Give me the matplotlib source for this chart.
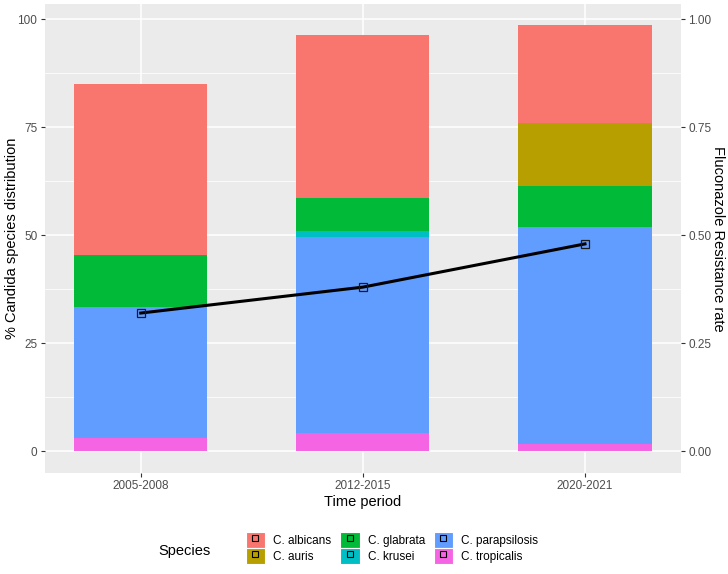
import matplotlib.pyplot as plt
from matplotlib.patches import Patch
from matplotlib.lines import Line2D
import numpy as np

plt.rcParams['font.family'] = ['Liberation Sans', 'DejaVu Sans']

periods = ['2005-2008', '2012-2015', '2020-2021']
# stacked from bottom to top
species = ['C. tropicalis', 'C. parapsilosis', 'C. krusei', 'C. glabrata', 'C. auris', 'C. albicans']
colors = ['#F564E3', '#619CFF', '#00BFC4', '#00BA38', '#B79F00', '#F8766D']
tropicalis = [3.2, 4.2, 1.6]
parapsilosis = [30.3, 45.4, 50.2]
krusei = [0.0, 1.3, 0.0]
glabrata = [12.0, 7.8, 9.7]
auris = [0.0, 0.0, 14.4]
albicans = [39.5, 37.6, 22.7]
resistance = [0.32, 0.38, 0.48]

legend_order = ['C. albicans', 'C. auris', 'C. glabrata', 'C. krusei', 'C. parapsilosis', 'C. tropicalis']

values = [tropicalis, parapsilosis, krusei, glabrata, auris, albicans]

fig = plt.figure(figsize=(7.28, 5.74), dpi=100)
ax = fig.add_axes([45 / 728, 1 - 472.7 / 574, 635.7 / 728, 468.7 / 574])
ax.set_facecolor('#EBEBEB')
for s in ax.spines.values():
    s.set_visible(False)

x = np.arange(1, len(periods) + 1)
bottom = np.zeros(len(periods))
for name, vals, c in zip(species, values, colors):
    ax.bar(x, vals, width=0.6, bottom=bottom, color=c, label=name, zorder=2)
    bottom += np.array(vals)

ylo, yhi = -4.93, 103.5
ax.set_ylim(ylo, yhi)
ax.set_xlim(0.569, 3.431)
ax.set_xticks(x)
ax.set_xticklabels(periods)
ax.set_yticks([0, 25, 50, 75, 100])
ax.set_yticks([12.5, 37.5, 62.5, 87.5], minor=True)
ax.set_axisbelow(True)
ax.grid(which='major', color='white', lw=1.1)
ax.grid(which='minor', axis='y', color='white', lw=0.55)
ax.tick_params(which='major', length=3, width=0.8, color='#333333',
               labelcolor='#4D4D4D', labelsize=8.45, pad=2.5)
ax.tick_params(which='minor', length=0)
ax.set_xlabel('Time period', fontsize=10.56, labelpad=2)
ax.set_ylabel('% Candida species distribution', fontsize=10.56, va='center')
ax.yaxis.set_label_coords(-0.052, 0.5)

ax2 = ax.twinx()
for s in ax2.spines.values():
    s.set_visible(False)
ax2.set_ylim(ylo / 100, yhi / 100)
ax2.set_yticks([0, 0.25, 0.5, 0.75, 1.0])
ax2.set_yticklabels(['0.00', '0.25', '0.50', '0.75', '1.00'])
ax2.tick_params(length=3, width=0.8, color='#333333', labelcolor='#4D4D4D',
                labelsize=8.45, pad=2.5)
ax2.plot(x, resistance, color='black', lw=2.2, zorder=3)
ax2.plot(x, resistance, ls='none', marker='s', ms=6, mfc='none',
         mec='#1a1a1a', mew=0.9, zorder=4)
ax2.set_ylabel('Fluconazole Resistance rate', fontsize=10.56, rotation=270, va='center')
ax2.yaxis.set_label_coords(1.058, 0.5)

handles = []
for name in legend_order:
    c = colors[species.index(name)]
    handles.append((Patch(facecolor=c, edgecolor='white', lw=0.8),
                    Line2D([], [], ls='none', marker='s', ms=5, mfc='none',
                           mec='black', mew=0.8)))
fig.legend(handles, legend_order, loc='center', bbox_to_anchor=(392 / 728, 1 - 548 / 574),
           ncol=3, frameon=False, fontsize=8.45, handlelength=1.65, handleheight=1.65,
           handletextpad=0.7, columnspacing=0.75, labelspacing=0.05, borderpad=0)
fig.text(184 / 728, 1 - 551 / 574, 'Species', fontsize=10.56, ha='center', va='center')

fig.savefig('out.png', dpi=100)
